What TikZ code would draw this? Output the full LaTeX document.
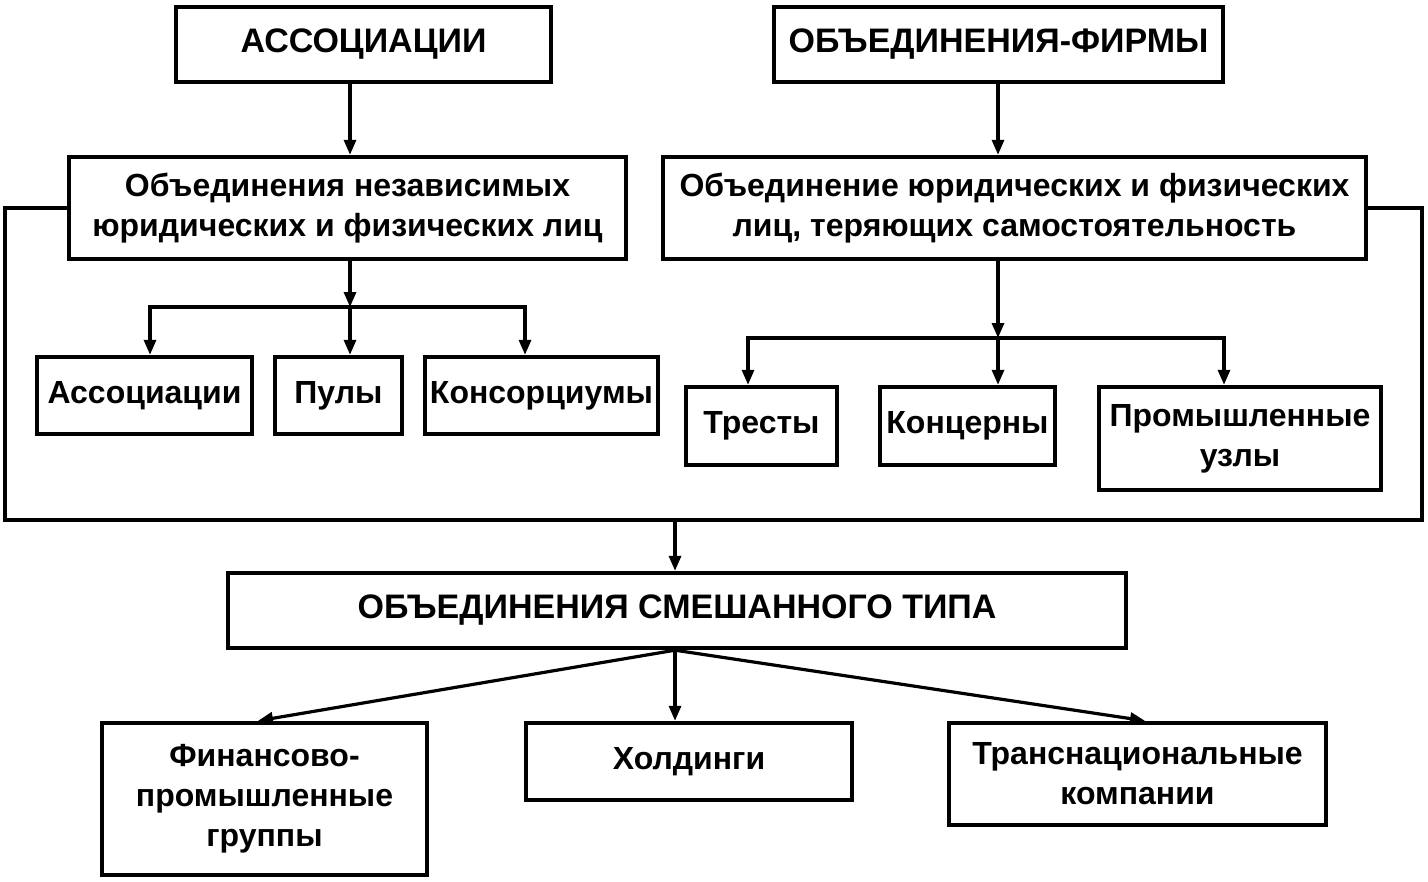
\documentclass[tikz,border=0pt]{standalone}
\usepackage{fontspec}
\setmainfont{Liberation Sans}
\usetikzlibrary{arrows.meta}
\begin{document}
\begin{tikzpicture}[x=0.5pt,y=-0.5pt,
  box/.style={draw,line width=2.2pt,inner sep=0pt,align=center,
    font=\fontsize{16}{20}\selectfont\bfseries},
  capsbox/.style={box,font=\fontsize{17}{20}\selectfont\bfseries},
  conn/.style={line width=1.6pt},
  arr/.style={conn,-{Triangle[length=7.5pt,width=6pt]}}]
\useasboundingbox (0,0) rectangle (1428,882);
% top level
\node[capsbox,minimum width=187.5pt,minimum height=37.5pt] (A) at (363.5,44.5) {АССОЦИАЦИИ};
\node[capsbox,minimum width=224.5pt,minimum height=37.5pt] (B) at (998.5,44.5) {ОБЪЕДИНЕНИЯ-ФИРМЫ};
% second level
\node[box,minimum width=278.5pt,minimum height=51pt] (C) at (347.5,208) {Объединения независимых\\юридических и физических лиц};
\node[box,minimum width=351.5pt,minimum height=51pt] (D) at (1014.5,208) {Объединение юридических и физических\\лиц, теряющих самостоятельность};
% third level left
\node[box,minimum width=107.5pt,minimum height=38.5pt] (E1) at (144.5,395.5) {Ассоциации};
\node[box,minimum width=63.5pt,minimum height=38.5pt] (E2) at (338.5,395.5) {Пулы};
\node[box,minimum width=116.5pt,minimum height=38.5pt] (E3) at (541.5,395.5) {Консорциумы};
% third level right
\node[box,minimum width=75.5pt,minimum height=39pt] (F1) at (761.5,426) {Тресты};
\node[box,minimum width=87.5pt,minimum height=39pt] (F2) at (967.5,426) {Концерны};
\node[box,minimum width=141pt,minimum height=51.5pt] (F3) at (1240,438.5) {Промышленные\\узлы};
% mixed
\node[capsbox,minimum width=449pt,minimum height=37.5pt] (G) at (677,610.5) {ОБЪЕДИНЕНИЯ СМЕШАННОГО ТИПА};
\node[box,minimum width=162.5pt,minimum height=76pt] (H1) at (264.5,799) {Финансово-\\промышленные\\группы};
\node[box,minimum width=163pt,minimum height=38.5pt] (H2) at (689,761.5) {Холдинги};
\node[box,minimum width=188.5pt,minimum height=51pt] (H3) at (1137.5,774) {Транснациональные\\компании};
% junctions
\coordinate (cj) at (350,307);
\coordinate (dj) at (998,338);
\coordinate (fl) at (5,520);
\coordinate (fr) at (1422,520);
% arrows top
\draw[arr] (A.south -| cj) -- (C.north -| cj);
\draw[arr] (B.south -| dj) -- (D.north -| dj);
% left branch
\draw[arr] (C.south -| cj) -- (cj);
\draw[arr] (cj) -| ([xshift=2.75pt]E1.north);
\draw[arr] (cj) -- (cj |- E2.north);
\draw[arr] (cj) -| ([xshift=-8.25pt]E3.north);
% right branch
\draw[arr] (D.south -| dj) -- (dj);
\draw[arr] (dj) -| ([xshift=-6.75pt]F1.north);
\draw[arr] (dj) -- (dj |- F2.north);
\draw[arr] (dj) -| ([xshift=-8pt]F3.north);
% frame
\draw[conn] (C.west) -| (fl) -- (fr) |- (D.east);
\draw[arr] ([xshift=-1pt]G.north |- fl) -- ([xshift=-1pt]G.north);
% bottom
\coordinate (gs) at ([xshift=-1pt]G.south);
\draw[arr] (gs) -- ([xshift=-3.25pt]H1.north);
\draw[arr] (gs) -- (gs |- H2.north);
\draw[arr] (gs) -- ([xshift=3.75pt]H3.north);
\end{tikzpicture}
\end{document}
